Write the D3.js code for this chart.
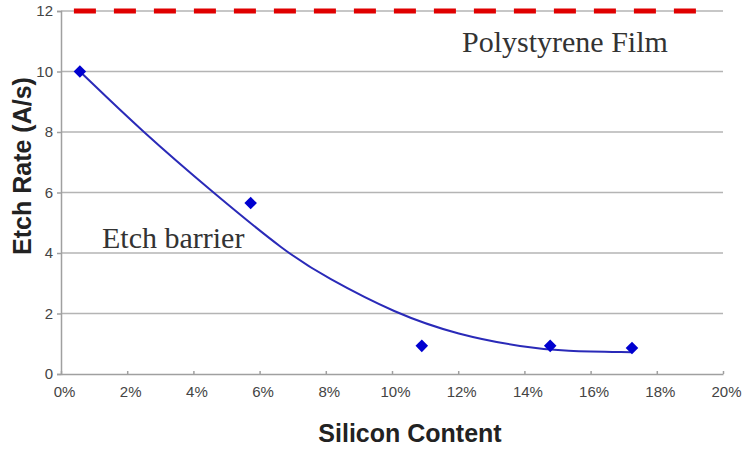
<!DOCTYPE html>
<html><head><meta charset="utf-8">
<script src="https://cdn.jsdelivr.net/npm/d3@7"></script>
<style>body{margin:0;background:#fff}svg{display:block}</style>
</head><body>
<svg id="c" width="746" height="452"></svg>
<script>
const xTicks = [0,2,4,6,8,10,12,14,16,18,20];
const yTicks = [0,2,4,6,8,10,12];
const siliconPct = [0.57, 5.73, 10.9, 14.78, 17.25];
const etchRate = [10, 5.65, 0.93, 0.93, 0.86];
const trendX = [0.57, 2.47, 4.59, 6.82, 8, 10.1, 12, 14, 15.2, 17.25];
const trendY = [10, 8, 6, 4, 3.2, 2, 1.29, 0.88, 0.75, 0.72];
const filmRate = 12;
const filmRange = [0.39, 19.67];

const W = 746, H = 452, m = {l:61, r:23, t:11, b:78};
const svg = d3.select('#c');
const x = d3.scaleLinear().domain([0,20]).range([m.l, W-m.r]);
const y = d3.scaleLinear().domain([0,12]).range([H-m.b, m.t]);

// gridlines
svg.append('g').selectAll('line').data(yTicks.filter(d=>d>0)).join('line')
  .attr('x1', x(0)).attr('x2', x(20)).attr('y1', d=>y(d)).attr('y2', d=>y(d))
  .attr('stroke', '#b4b4b4').attr('stroke-width', 1.5);

// y axis
const ya = svg.append('g').attr('transform', `translate(${x(0)},0)`)
  .call(d3.axisLeft(y).tickValues(yTicks).tickSize(4).tickPadding(4));
ya.select('.domain').attr('stroke', '#a0a0a0').attr('stroke-width', 1.5);
ya.selectAll('.tick line').attr('stroke', '#a0a0a0').attr('stroke-width', 1.5);
ya.selectAll('text').attr('font-family', 'Liberation Sans, Arial, sans-serif').attr('font-size', 15).attr('fill', '#444');

// x axis
const xa = svg.append('g').attr('transform', `translate(0,${y(0)})`)
  .call(d3.axisBottom(x).tickValues(xTicks).tickFormat(d=>d+'%').tickSize(-3).tickSizeOuter(0).tickPadding(12));
xa.select('.domain').attr('stroke', '#a0a0a0').attr('stroke-width', 1.5);
xa.selectAll('.tick line').attr('stroke', '#a0a0a0').attr('stroke-width', 1.5);
xa.selectAll('text').attr('font-family', 'Liberation Sans, Arial, sans-serif').attr('font-size', 15).attr('fill', '#444').attr('dx', 3);

// polystyrene dashed line
svg.append('line')
  .attr('x1', x(filmRange[0])).attr('x2', x(filmRange[1]))
  .attr('y1', y(filmRate)).attr('y2', y(filmRate))
  .attr('stroke', '#e00000').attr('stroke-width', 5).attr('stroke-dasharray', '22,18');

// trend curve
const pts = trendX.map((d,i)=>[d, trendY[i]]);
svg.append('path').datum(pts)
  .attr('d', d3.line().x(d=>x(d[0])).y(d=>y(d[1])).curve(d3.curveBasis))
  .attr('fill','none').attr('stroke', '#2a2ab8').attr('stroke-width', 2);

// points
svg.append('g').selectAll('path').data(siliconPct.map((d,i)=>[d, etchRate[i]])).join('path')
  .attr('transform', d=>`translate(${x(d[0])},${y(d[1])})`)
  .attr('d', d3.symbol().type(d3.symbolDiamond2).size(100))
  .attr('fill', '#0000d0');

// annotations
svg.append('text').attr('x', 462).attr('y', 52).text('Polystyrene Film')
  .attr('font-family', 'Liberation Serif, Times New Roman, serif').attr('font-size', 30).attr('fill', '#333');
svg.append('text').attr('x', 102).attr('y', 248).text('Etch barrier')
  .attr('font-family', 'Liberation Serif, Times New Roman, serif').attr('font-size', 30).attr('fill', '#333');

// axis titles
svg.append('text').attr('x', 410).attr('y', 442).attr('text-anchor','middle').text('Silicon Content')
  .attr('font-family', 'Liberation Sans, Arial, sans-serif').attr('font-size', 25).attr('font-weight','bold').attr('fill', '#222');
svg.append('text').attr('transform', 'translate(31,166) rotate(-90)').attr('text-anchor','middle').text('Etch Rate (A/s)')
  .attr('font-family', 'Liberation Sans, Arial, sans-serif').attr('font-size', 25).attr('font-weight','bold').attr('fill', '#222');
</script>
</body></html>
